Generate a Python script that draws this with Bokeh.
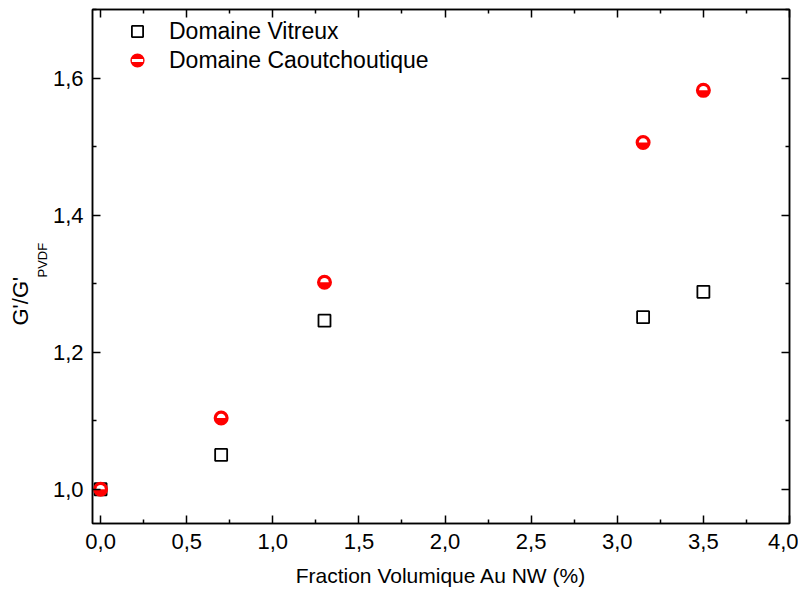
import math
from bokeh.plotting import figure
from bokeh.models import (LinearAxis, Range1d, FixedTicker, CustomJSTickFormatter,
                          Legend, LegendItem, Title)
from bokeh.embed import file_html
from bokeh.resources import INLINE

# data
x_vals = [0.0, 0.7, 1.3, 3.15, 3.5]
vitreux = [1.0, 1.05, 1.246, 1.251, 1.288]
caout = [1.0, 1.104, 1.302, 1.506, 1.582]
x_ticks = [0.0, 0.5, 1.0, 1.5, 2.0, 2.5, 3.0, 3.5, 4.0]
x_minor = [0.25, 0.75, 1.25, 1.75, 2.25, 2.75, 3.25, 3.75]
y_ticks = [1.0, 1.2, 1.4, 1.6]
y_minor = [1.1, 1.3, 1.5, 1.7]

FONT = "Liberation Sans"

p = figure(width=798, height=589, output_backend="svg", toolbar_location=None,
           x_range=Range1d(-0.047, 4.0), y_range=Range1d(0.95, 1.70),
           min_border_left=92, min_border_top=9, min_border_right=9, min_border_bottom=66)
p.xgrid.visible = False
p.ygrid.visible = False
p.outline_line_color = "black"
p.outline_line_width = 1.5
p.background_fill_color = "white"
p.border_fill_color = "white"

fmt = CustomJSTickFormatter(code="return tick.toFixed(1).replace('.', ',');")

def style(ax, labels=True):
    ax.axis_line_width = 1.5
    ax.major_tick_line_width = 1.5
    ax.minor_tick_line_width = 1.5
    ax.major_tick_in = 8
    ax.major_tick_out = 0
    ax.minor_tick_in = 4
    ax.minor_tick_out = 0
    ax.major_label_text_font = FONT
    if labels:
        ax.major_label_text_font_size = "22px"
        ax.major_label_text_color = "black"
    else:
        ax.major_label_text_font_size = "1px"
        ax.major_label_text_color = None
        ax.major_label_standoff = 0

xa = p.xaxis[0]
xa.ticker = FixedTicker(ticks=x_ticks, minor_ticks=x_minor)
xa.formatter = fmt
style(xa)
xa.major_label_standoff = 10
xa.axis_label = "Fraction Volumique Au NW (%)"
xa.axis_label_text_font = FONT
xa.axis_label_text_font_size = "21px"
xa.axis_label_text_font_style = "normal"
xa.axis_label_text_color = "black"
xa.axis_label_standoff = 12

ya = p.yaxis[0]
ya.ticker = FixedTicker(ticks=y_ticks, minor_ticks=y_minor)
ya.formatter = fmt
style(ya)
ya.major_label_standoff = 9

top = LinearAxis(ticker=FixedTicker(ticks=x_ticks, minor_ticks=x_minor))
style(top, labels=False)
p.add_layout(top, "above")
right = LinearAxis(ticker=FixedTicker(ticks=y_ticks, minor_ticks=y_minor))
style(right, labels=False)
p.add_layout(right, "right")

sq = p.scatter(x_vals, vitreux, marker="square", size=12, fill_color="white",
               line_color="black", line_width=1.8)
rc = p.scatter(x_vals, caout, marker="circle", size=12, fill_color="red",
               line_color="red", line_width=3)
p.wedge(x_vals, caout, radius=4.3, radius_units="screen", start_angle=0,
        end_angle=math.pi, fill_color="white", line_color=None)
# legend-only glyph (NaN point, nothing drawn in the plot): white band of the half-filled marker
nan = float("nan")
leg_band = p.scatter(x=[nan], y=[nan], marker="dash", size=8, line_color="white", line_width=3)

legend = Legend(items=[LegendItem(label="Domaine Vitreux", renderers=[sq]),
                       LegendItem(label="Domaine Caoutchoutique", renderers=[rc, leg_band])],
                location=(31, 449), border_line_color=None, background_fill_alpha=0,
                label_text_font=FONT, label_text_font_size="23px", label_text_color="black",
                glyph_width=28, glyph_height=28, spacing=1, label_standoff=18,
                margin=0, padding=0)
p.add_layout(legend)

ya.axis_label = None
t_sub = Title(text="PVDF", align="left", offset=246, text_font=FONT,
              text_font_size="13px", text_font_style="normal", text_color="black", standoff=0)
t_main = Title(text="G'/G'", align="left", offset=198, text_font=FONT,
               text_font_size="22px", text_font_style="normal", text_color="black", standoff=0)
p.add_layout(t_sub, "left")
p.add_layout(t_main, "left")

open("out.html", "w").write(file_html(p, INLINE))
